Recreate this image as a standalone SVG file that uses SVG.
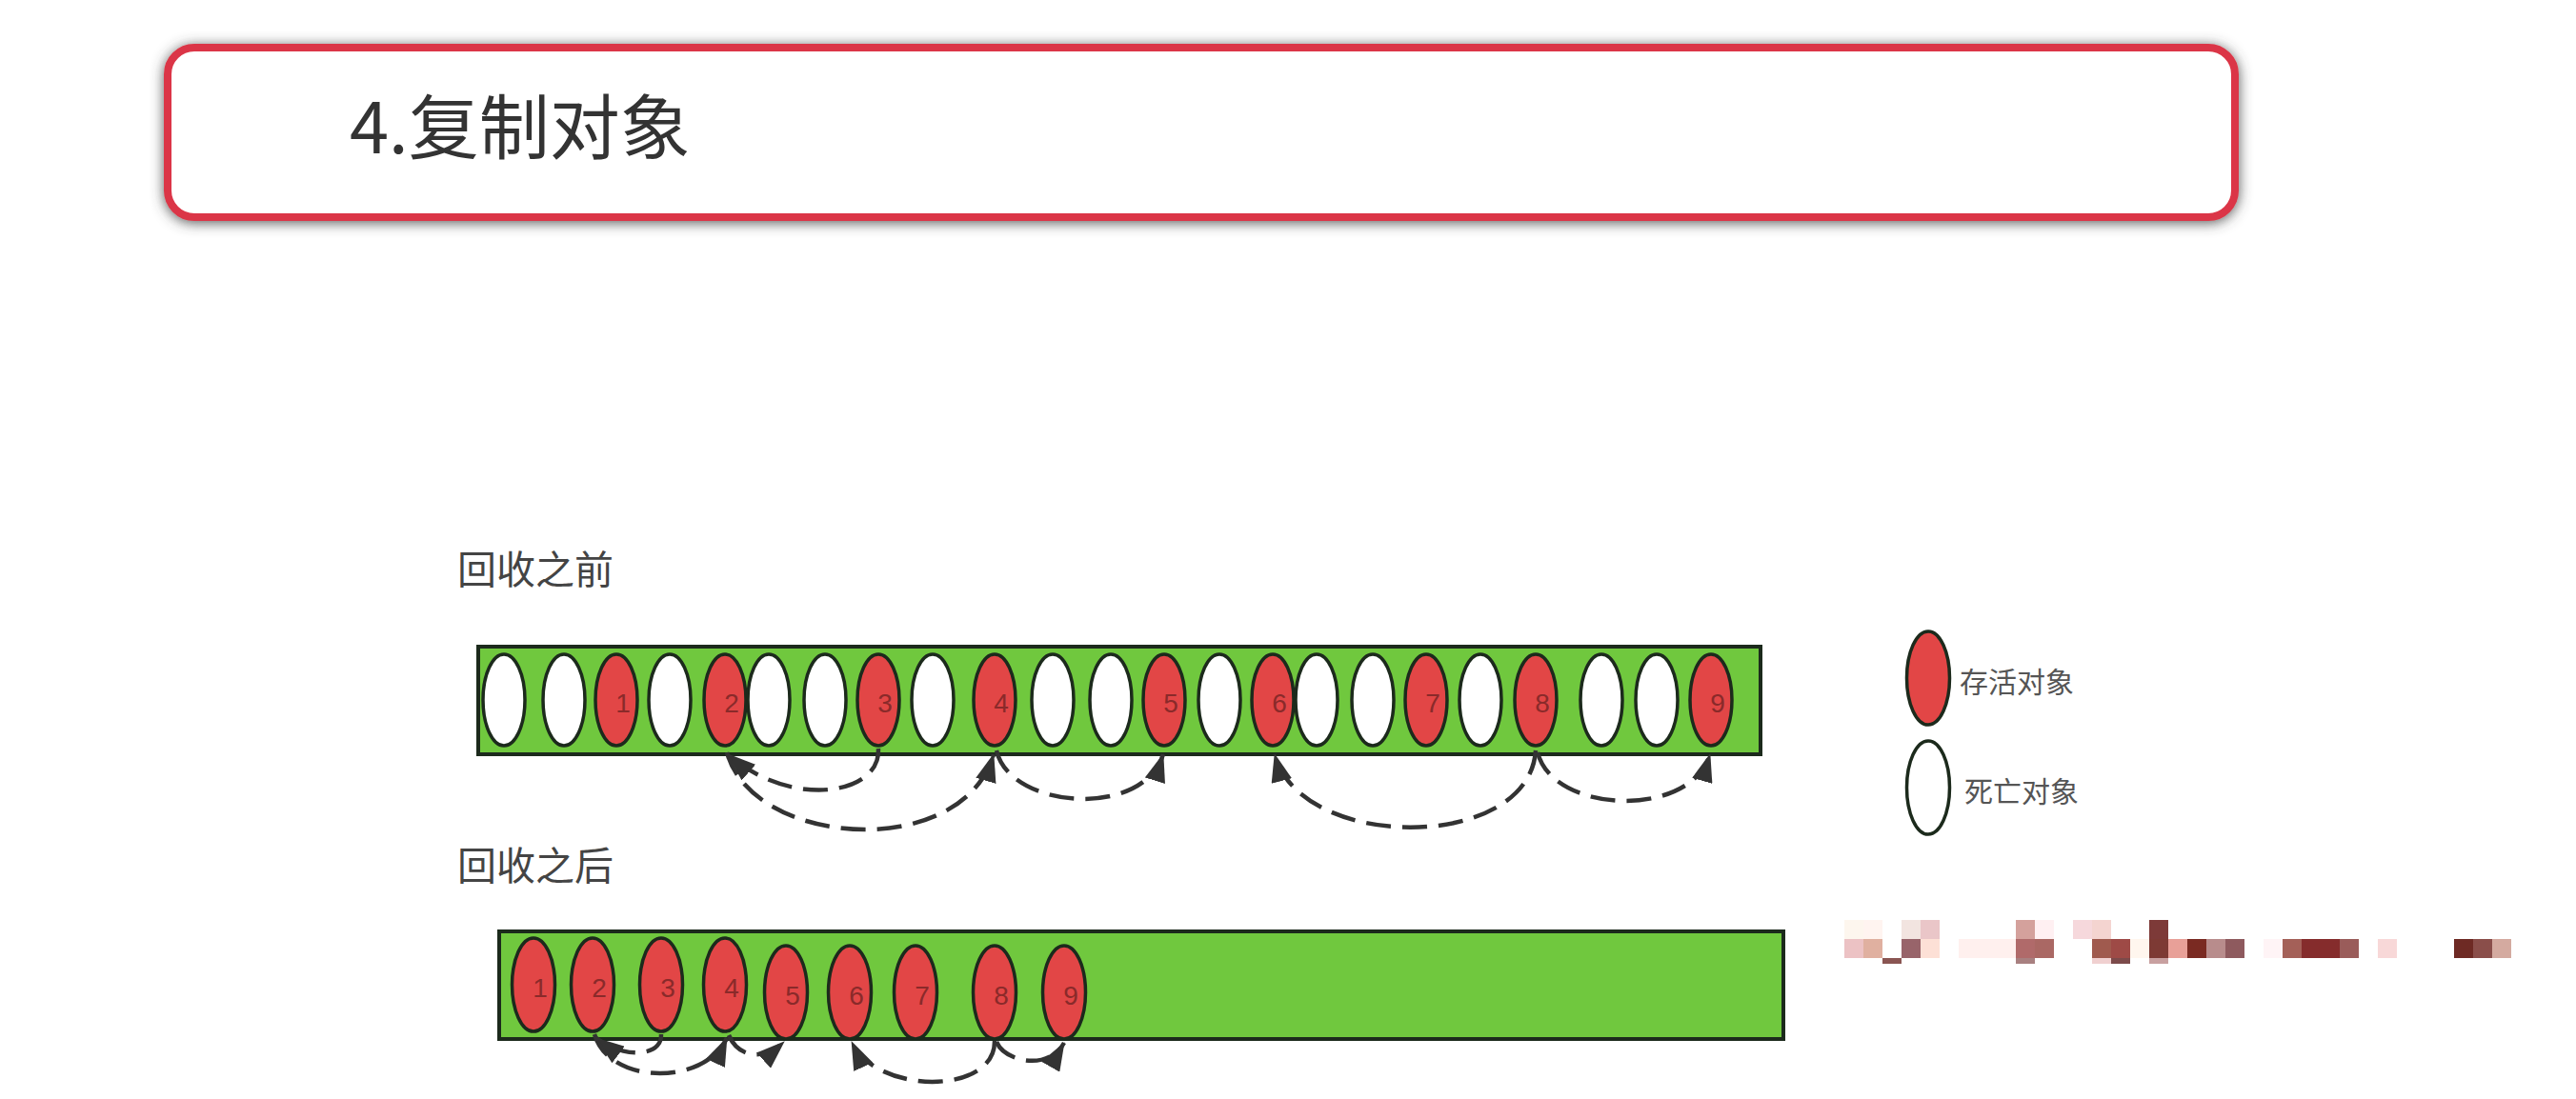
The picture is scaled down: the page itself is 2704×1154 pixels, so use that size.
<svg xmlns="http://www.w3.org/2000/svg" width="2704" height="1154" viewBox="0 0 2704 1154">
<style>
.bar{fill:#70c83e;stroke:#1c2a1c;stroke-width:4}
.live{fill:#e24646;stroke:#1c2a1c;stroke-width:3.5}
.dead{fill:#ffffff;stroke:#1c2a1c;stroke-width:3.5}
.num{font-family:"Liberation Sans",Arial,sans-serif;font-size:28px;fill:#8a2a2a;text-anchor:middle}
.lbl{font-family:"Noto Sans CJK SC","Noto Sans",sans-serif;font-size:41px;fill:#444}
.leg{font-family:"Noto Sans CJK SC","Noto Sans",sans-serif;font-size:30px;fill:#555}
.conn{fill:none;stroke:#333;stroke-width:4.5;stroke-dasharray:26 12;marker-end:url(#ah)}
</style>
<defs>
<filter id="sh" x="-5%" y="-25%" width="110%" height="150%">
<feDropShadow dx="0" dy="2" stdDeviation="7" flood-color="#444" flood-opacity="0.9"/>
</filter>
<marker id="ah" markerUnits="userSpaceOnUse" markerWidth="30" markerHeight="22" refX="29" refY="11" orient="auto">
<path d="M0,0 L30,11 L0,22 Z" fill="#333"/>
</marker>
</defs>
<rect width="2704" height="1154" fill="#ffffff"/>

<g id="title">
<rect x="176" y="50" width="2170" height="178" rx="28" fill="#ffffff" stroke="#db3546" stroke-width="8" filter="url(#sh)"/>
<text x="367" y="161" font-family="'Noto Sans CJK SC','Noto Sans',sans-serif" font-size="74" fill="#333">4.复制对象</text>
</g>

<g id="label-before"><text class="lbl" x="480" y="613">回收之前</text></g>
<g id="label-after"><text class="lbl" x="480" y="924">回收之后</text></g>

<g id="heap-before">
<rect class="bar" x="502" y="679" width="1346" height="113"/>
<ellipse class="dead" cx="529" cy="735" rx="22" ry="48"/>
<ellipse class="dead" cx="592" cy="735" rx="22" ry="48"/>
<g id="b1"><ellipse class="live" cx="647" cy="735" rx="22" ry="48"/><text class="num" x="654" y="748">1</text></g>
<ellipse class="dead" cx="703" cy="735" rx="22" ry="48"/>
<g id="b2"><ellipse class="live" cx="761" cy="735" rx="22" ry="48"/><text class="num" x="768" y="748">2</text></g>
<ellipse class="dead" cx="807" cy="735" rx="22" ry="48"/>
<ellipse class="dead" cx="866" cy="735" rx="22" ry="48"/>
<g id="b3"><ellipse class="live" cx="922" cy="735" rx="22" ry="48"/><text class="num" x="929" y="748">3</text></g>
<ellipse class="dead" cx="979" cy="735" rx="22" ry="48"/>
<g id="b4"><ellipse class="live" cx="1044" cy="735" rx="22" ry="48"/><text class="num" x="1051" y="748">4</text></g>
<ellipse class="dead" cx="1105" cy="735" rx="22" ry="48"/>
<ellipse class="dead" cx="1166" cy="735" rx="22" ry="48"/>
<g id="b5"><ellipse class="live" cx="1222" cy="735" rx="22" ry="48"/><text class="num" x="1229" y="748">5</text></g>
<ellipse class="dead" cx="1280" cy="735" rx="22" ry="48"/>
<g id="b6"><ellipse class="live" cx="1336" cy="735" rx="22" ry="48"/><text class="num" x="1343" y="748">6</text></g>
<ellipse class="dead" cx="1382" cy="735" rx="22" ry="48"/>
<ellipse class="dead" cx="1441" cy="735" rx="22" ry="48"/>
<g id="b7"><ellipse class="live" cx="1497" cy="735" rx="22" ry="48"/><text class="num" x="1504" y="748">7</text></g>
<ellipse class="dead" cx="1554" cy="735" rx="22" ry="48"/>
<g id="b8"><ellipse class="live" cx="1612" cy="735" rx="22" ry="48"/><text class="num" x="1619" y="748">8</text></g>
<ellipse class="dead" cx="1681" cy="735" rx="22" ry="48"/>
<ellipse class="dead" cx="1739" cy="735" rx="22" ry="48"/>
<g id="b9"><ellipse class="live" cx="1796" cy="735" rx="22" ry="48"/><text class="num" x="1803" y="748">9</text></g>
</g>

<g id="heap-after">
<rect class="bar" x="524" y="978" width="1348" height="113"/>
<g id="a1"><ellipse class="live" cx="560" cy="1034" rx="22.5" ry="49"/><text class="num" x="567" y="1047">1</text></g>
<g id="a2"><ellipse class="live" cx="622" cy="1034" rx="22.5" ry="49"/><text class="num" x="629" y="1047">2</text></g>
<g id="a3"><ellipse class="live" cx="694" cy="1034" rx="22.5" ry="49"/><text class="num" x="701" y="1047">3</text></g>
<g id="a4"><ellipse class="live" cx="761" cy="1034" rx="22.5" ry="49"/><text class="num" x="768" y="1047">4</text></g>
<g id="a5"><ellipse class="live" cx="825" cy="1042" rx="22.5" ry="49"/><text class="num" x="832" y="1055">5</text></g>
<g id="a6"><ellipse class="live" cx="892" cy="1042" rx="22.5" ry="49"/><text class="num" x="899" y="1055">6</text></g>
<g id="a7"><ellipse class="live" cx="961" cy="1042" rx="22.5" ry="49"/><text class="num" x="968" y="1055">7</text></g>
<g id="a8"><ellipse class="live" cx="1044" cy="1042" rx="22.5" ry="49"/><text class="num" x="1051" y="1055">8</text></g>
<g id="a9"><ellipse class="live" cx="1117" cy="1042" rx="22.5" ry="49"/><text class="num" x="1124" y="1055">9</text></g>
</g>

<g id="connectors">
<path class="conn" d="M922,786 C925,835 830,850 764,792"/>
<path class="conn" d="M763,790 C790,890 1010,905 1043,792"/>
<path class="conn" d="M1046,788 C1060,850 1200,860 1221,792"/>
<path class="conn" d="M1612,788 C1605,895 1365,895 1338,792"/>
<path class="conn" d="M1614,790 C1630,855 1775,860 1795,792"/>
<path class="conn" d="M694,1086 C695,1110 655,1112 626,1090"/>
<path class="conn" d="M624,1086 C640,1140 740,1140 763,1090"/>
<path class="conn" d="M765,1087 C775,1110 800,1115 823,1094"/>
<path class="conn" d="M1044,1093 C1045,1150 920,1150 894,1094"/>
<path class="conn" d="M1046,1094 C1055,1115 1100,1125 1117,1095"/>
</g>

<g id="legend-live">
<ellipse class="live" cx="2024" cy="712" rx="22.5" ry="49"/>
<text class="leg" x="2057" y="727">存活对象</text>
</g>
<g id="legend-dead">
<ellipse class="dead" cx="2024" cy="827" rx="22.5" ry="49"/>
<text class="leg" x="2062" y="842">死亡对象</text>
</g>

<g id="mosaic">
<rect x="1936" y="966" width="20" height="20" fill="#fdf6ee"/>
<rect x="1956" y="966" width="20" height="20" fill="#fff4f0"/>
<rect x="1996" y="966" width="20" height="20" fill="#f2e4e0"/>
<rect x="2016" y="966" width="20" height="20" fill="#eac6c8"/>
<rect x="2116" y="966" width="20" height="20" fill="#d4a19c"/>
<rect x="2136" y="966" width="20" height="20" fill="#fff0f2"/>
<rect x="2176" y="966" width="20" height="20" fill="#f6d8dc"/>
<rect x="2196" y="966" width="20" height="20" fill="#f4d4d0"/>
<rect x="2256" y="966" width="20" height="20" fill="#7d3a38"/>
<rect x="1936" y="986" width="20" height="20" fill="#ecc2c4"/>
<rect x="1956" y="986" width="20" height="20" fill="#e0b0a0"/>
<rect x="1996" y="986" width="20" height="20" fill="#98646a"/>
<rect x="2016" y="986" width="20" height="20" fill="#fde0d6"/>
<rect x="2056" y="986" width="60" height="20" fill="#fff0ee"/>
<rect x="2116" y="986" width="20" height="20" fill="#b06a6a"/>
<rect x="2136" y="986" width="20" height="20" fill="#aa6864"/>
<rect x="2196" y="986" width="20" height="20" fill="#a05a4e"/>
<rect x="2216" y="986" width="20" height="20" fill="#9e4a46"/>
<rect x="2236" y="986" width="20" height="20" fill="#fff6ee"/>
<rect x="2256" y="986" width="20" height="20" fill="#7d3a34"/>
<rect x="2276" y="986" width="20" height="20" fill="#e8a098"/>
<rect x="2296" y="986" width="20" height="20" fill="#7a2a22"/>
<rect x="2316" y="986" width="20" height="20" fill="#b88c8c"/>
<rect x="2336" y="986" width="20" height="20" fill="#8e5a5e"/>
<rect x="2376" y="986" width="20" height="20" fill="#fff4f6"/>
<rect x="2396" y="986" width="20" height="20" fill="#a46058"/>
<rect x="2416" y="986" width="40" height="20" fill="#852c2c"/>
<rect x="2456" y="986" width="20" height="20" fill="#9a5c5a"/>
<rect x="2496" y="986" width="20" height="20" fill="#f8d8d8"/>
<rect x="2576" y="986" width="20" height="20" fill="#6e2a24"/>
<rect x="2596" y="986" width="20" height="20" fill="#8a4e4a"/>
<rect x="2616" y="986" width="20" height="20" fill="#d4aaa0"/>
<rect x="1976" y="1006" width="20" height="6" fill="#8a5552"/>
<rect x="2116" y="1006" width="20" height="6" fill="#a88080"/>
<rect x="2196" y="1006" width="20" height="6" fill="#f0d0d0"/>
<rect x="2216" y="1006" width="20" height="6" fill="#7c4a4a"/>
<rect x="2256" y="1006" width="20" height="6" fill="#c8a0a0"/>
</g>
</svg>
